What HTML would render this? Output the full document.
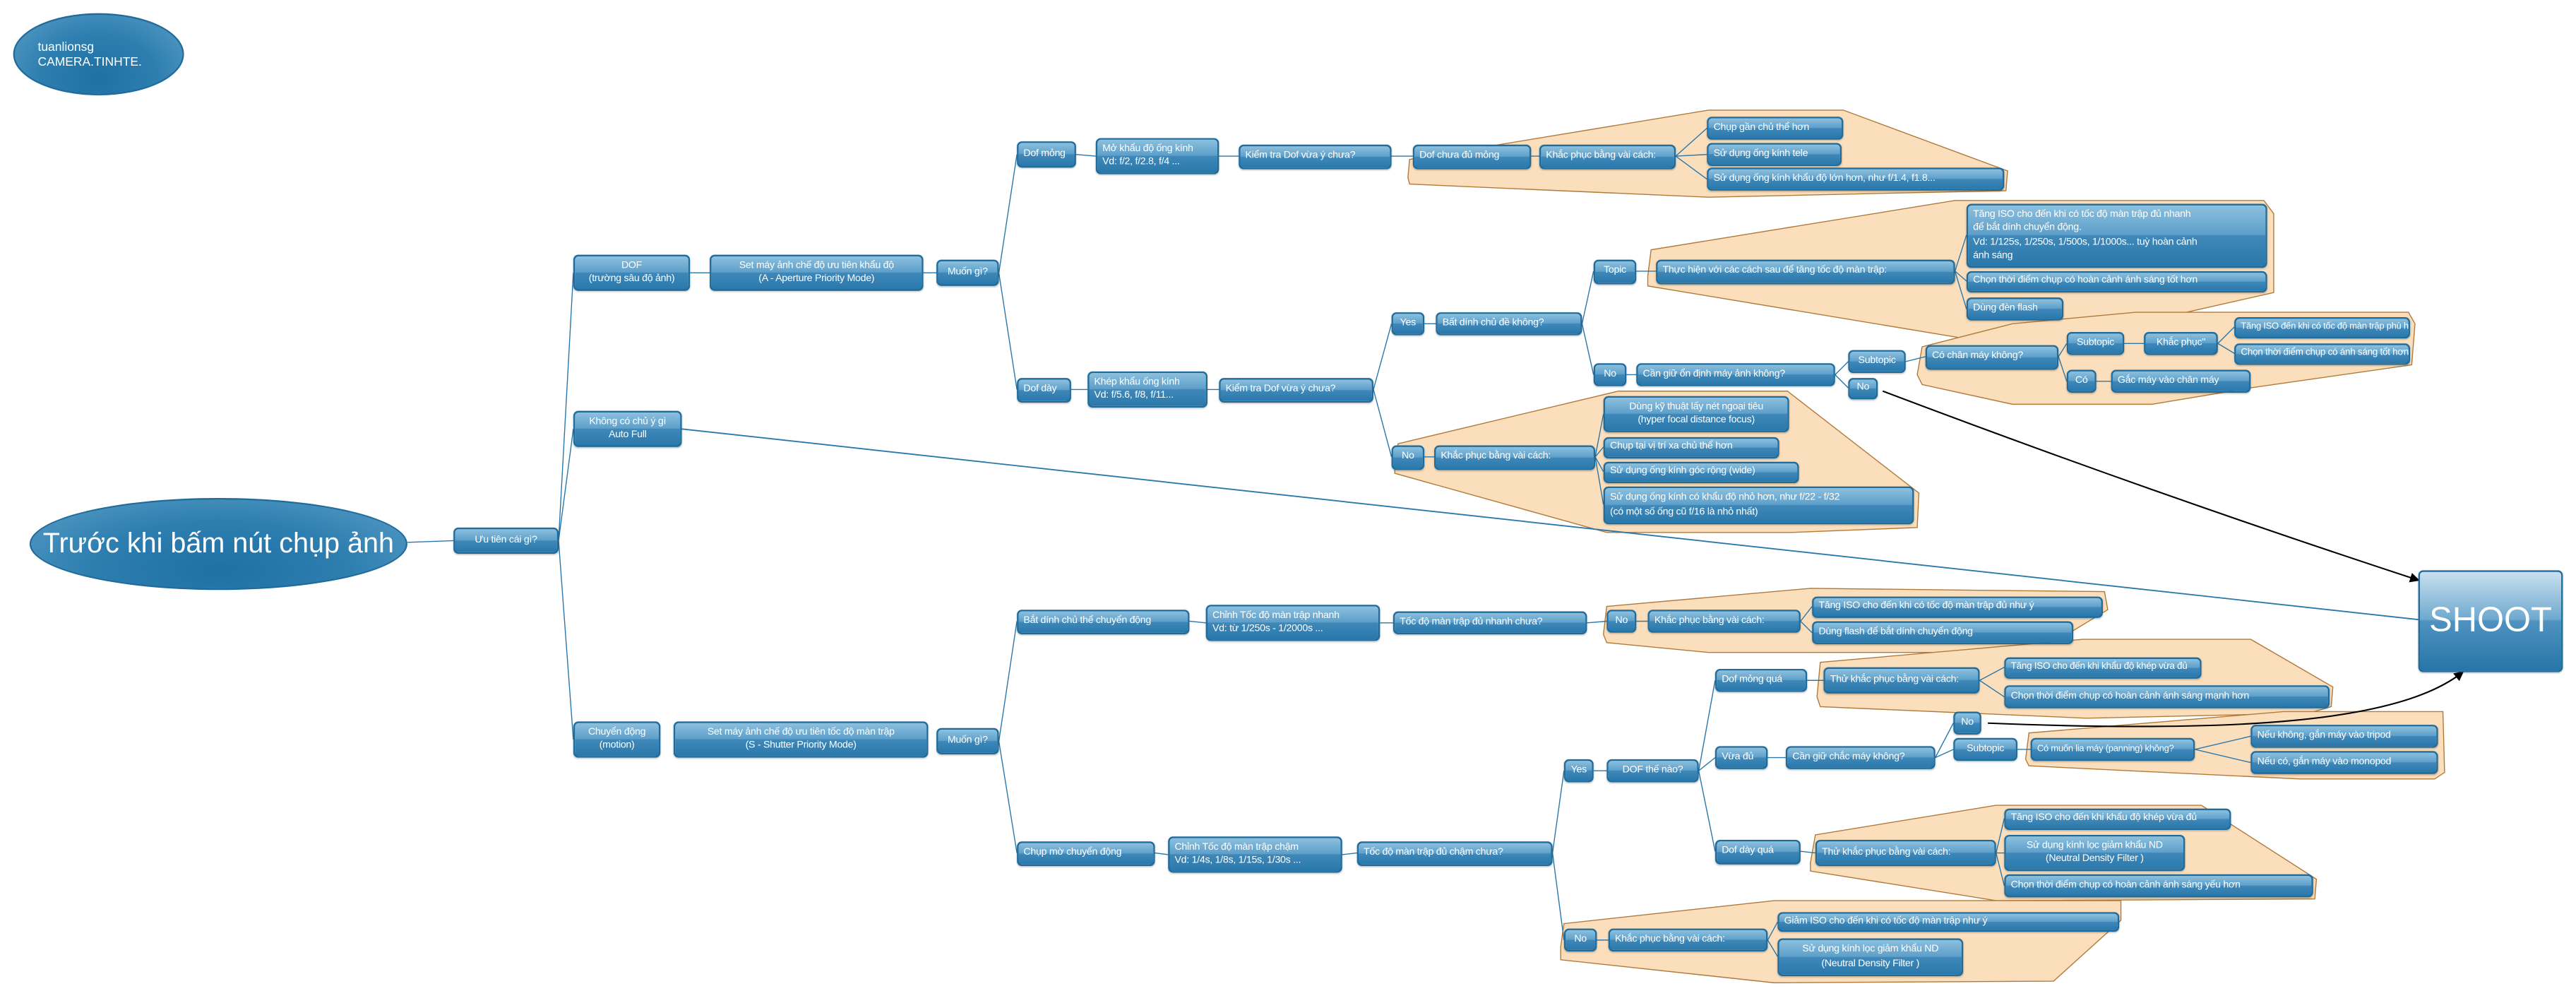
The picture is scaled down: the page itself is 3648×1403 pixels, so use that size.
<!DOCTYPE html>
<html><head><meta charset="utf-8">
<style>
html,body{margin:0;padding:0;background:#fff;width:3648px;height:1403px;overflow:hidden}
#c{position:absolute;left:0;top:0;width:1568px;height:603px;transform:scale(2.32653,2.32670);transform-origin:0 0}
svg{position:absolute;left:0;top:0}
.n{position:absolute;box-sizing:border-box;border:1px solid #1f6c9c;border-radius:3px;color:#fff;font-family:"Liberation Sans","Noto Sans CJK SC",sans-serif;font-size:6.1px;letter-spacing:-0.12px;line-height:8.4px;display:flex;align-items:center;justify-content:center;text-align:center;white-space:nowrap;overflow:hidden;background:linear-gradient(#8cc0de 0%,#5d9fca 48%,#3f88b9 50%,#2a78ab 100%);box-shadow:0 0.5px 1px rgba(0,0,0,.25)}
.l{justify-content:flex-start;text-align:left;padding-left:3px}
.e{position:absolute;border-radius:50%;border:1px solid #1f6c9c;color:#fff;font-family:"Liberation Sans",sans-serif;background:radial-gradient(ellipse at 50% 80%,#1f70a3 0%,#2e7fb0 50%,#5c9ec8 100%);display:flex;align-items:center;box-sizing:border-box}
</style></head><body><div id="c">
<svg width="1568" height="603" viewBox="0 0 1568 603">
<g fill="#fbdfbd" stroke="#b07a3a" stroke-width="0.6">
<polygon points="857,108 858,97 1040,67 1122,67 1222,104 1221,116 1040,120 858,112"/>
<polygon points="1003,168 1005,152 1190,122 1378,122 1384,130 1384,178 1260,206 1196,206 1003,174"/>
<polygon points="1167,228 1170,211 1225,197 1300,190 1466,190 1470,197 1468,222 1370,236 1310,246 1225,246 1170,234"/>
<polygon points="849,283 851,270 985,238 1088,238 1168,300 1167,321 1090,324 978,324 849,288"/>
<polygon points="976,386 978,369 1102,358 1281,360 1283,371 1240,397 1040,397 978,391"/>
<polygon points="1106,424 1108,403 1268,389 1370,389 1420,418 1419,430 1405,434 1270,437 1108,430"/>
<polygon points="1233,462 1235,446 1390,433 1487,433 1488,470 1482,474 1400,474 1235,466"/>
<polygon points="1102,525 1105,508 1215,490 1340,490 1410,535 1409,547 1215,548 1102,530"/>
<polygon points="950,576 952,562 1080,548 1291,548 1291,560 1250,597 1080,598 950,584"/>
</g>
<g stroke="#2a78ab" stroke-width="0.6" fill="none">
<path d="M248,330L276,329 M340,329L349,166 M340,329L349,261 M340,329L349,450 M420,166L432,166 M562,166L570,166 M608,166L619,94 M608,166L619,237 M655,94L667,95 M742,95L754,95 M847,95L860,95 M932,95L937,95 M1020,95L1039,78 M1020,95L1039,94 M1020,95L1039,109 M652,237L662,237 M735,237L742,237 M836,237L847,197 M836,237L847,278 M867,197L874,197 M963,197L970,165 M963,197L970,228 M996,165L1008,165 M1190,165L1197,143 M1190,165L1197,171 M1190,165L1197,188 M990,228L996,228 M1117,228L1125,220 M1117,228L1125,236 M1160,220L1172,217 M1253,217L1258,209 M1253,217L1258,232 M1293,209L1305,209 M1350,209L1360,199 M1350,209L1360,215 M1276,232L1285,232 M867,278L873,278 M971,278L976,252 M971,278L976,272 M971,278L976,287 M971,278L976,307 M608,451L619,378 M608,451L619,519 M724,378L734,379 M840,379L848,379 M966,379L978,378 M996,378L1003,378 M1096,378L1103,369 M1096,378L1103,385 M703,519L711,520 M817,520L826,519 M945,519L952,469 M945,519L952,572 M970,469L978,469 M1034,469L1044,414 M1034,469L1044,461 M1034,469L1044,518 M1100,414L1110,414 M1205,414L1220,406 M1205,414L1220,424 M1076,461L1087,461 M1178,461L1189,440 M1178,461L1189,456 M1228,456L1236,456 M1336,456L1370,448 M1336,456L1370,464 M1096,518L1105,519 M1215,519L1220,498 M1215,519L1220,519 M1215,519L1220,539 M972,572L979,572 M1076,572L1082,561 M1076,572L1082,582"/>
<path d="M415,261L1472,377" stroke-width="0.8"/>
</g>
<defs><marker id="a" markerWidth="6" markerHeight="6" refX="5" refY="3" orient="auto" markerUnits="userSpaceOnUse"><path d="M0,0L6,3L0,6z" fill="#000"/></marker></defs>
<g stroke="#000" stroke-width="0.9" fill="none">
<path d="M1146,238 Q1310,300 1472,353" marker-end="url(#a)"/>
<path d="M1210,440 C1360,446 1460,440 1499,409" marker-end="url(#a)"/>
</g>
</svg>
<div class="e" style="left:8px;top:8px;width:104px;height:50px;font-size:7.5px;line-height:9px;padding-left:14px">tuanlionsg<br>CAMERA.TINHTE.</div>
<div class="e" style="left:18px;top:303px;width:230px;height:56px;font-size:17px;justify-content:center">Trước khi bấm nút chụp ảnh</div>
<div class="n" style="left:1472px;top:347px;width:88px;height:62px;font-size:21px;letter-spacing:0;line-height:24px;background:linear-gradient(#c8e0ee 0%,#6fa9cf 48%,#4f92c0 50%,#2676a8 100%)">SHOOT</div>

<div class="n" style="left:276px;top:321px;width:64px;height:16px">Ưu tiên cái gì?</div>
<div class="n" style="left:349px;top:155px;width:71px;height:22px">DOF<br>(trường sâu độ ảnh)</div>
<div class="n" style="left:432px;top:155px;width:130px;height:22px">Set máy ảnh chế độ ưu tiên khẩu độ<br>(A - Aperture Priority Mode)</div>
<div class="n" style="left:570px;top:158px;width:38px;height:16px">Muốn gì?</div>
<div class="n" style="left:349px;top:250px;width:66px;height:22px">Không có chủ ý gì<br>Auto Full</div>
<div class="n" style="left:349px;top:439px;width:53px;height:22px">Chuyển động<br>(motion)</div>
<div class="n" style="left:410px;top:439px;width:155px;height:22px">Set máy ảnh chế độ ưu tiên tốc độ màn trập<br>(S - Shutter Priority Mode)</div>
<div class="n" style="left:570px;top:443px;width:38px;height:16px">Muốn gì?</div>

<div class="n l" style="left:619px;top:86px;width:36px;height:16px">Dof mỏng</div>
<div class="n l" style="left:667px;top:84px;width:75px;height:22px">Mở khẩu độ ống kính<br>Vd: f/2, f/2.8, f/4 ...</div>
<div class="n l" style="left:754px;top:88px;width:93px;height:15px">Kiểm tra Dof vừa ý chưa?</div>
<div class="n l" style="left:860px;top:88px;width:72px;height:15px">Dof chưa đủ mỏng</div>
<div class="n l" style="left:937px;top:88px;width:83px;height:15px">Khắc phục bằng vài cách:</div>
<div class="n l" style="left:1039px;top:71px;width:83px;height:14px">Chụp gần chủ thể hơn</div>
<div class="n l" style="left:1039px;top:87px;width:82px;height:14px">Sử dụng ống kính tele</div>
<div class="n l" style="left:1039px;top:102px;width:181px;height:14px">Sử dụng ống kính khẩu độ lớn hơn, như f/1.4, f1.8...</div>

<div class="n l" style="left:619px;top:230px;width:33px;height:15px">Dof dày</div>
<div class="n l" style="left:662px;top:226px;width:73px;height:22px">Khép khẩu ống kính<br>Vd: f/5.6, f/8, f/11...</div>
<div class="n l" style="left:742px;top:230px;width:94px;height:15px">Kiểm tra Dof vừa ý chưa?</div>
<div class="n" style="left:847px;top:190px;width:20px;height:14px">Yes</div>
<div class="n l" style="left:874px;top:190px;width:89px;height:14px">Bất dính chủ đề không?</div>
<div class="n" style="left:970px;top:158px;width:26px;height:15px">Topic</div>
<div class="n l" style="left:1008px;top:158px;width:182px;height:15px">Thực hiện với các cách sau để tăng tốc độ màn trập:</div>
<div class="n l" style="left:1197px;top:124px;width:183px;height:39px;line-height:8.4px">Tăng ISO cho đến khi có tốc độ màn trập đủ nhanh<br>để bắt dính chuyển động.<br>Vd: 1/125s, 1/250s, 1/500s, 1/1000s... tuỳ hoàn cảnh<br>ánh sáng</div>
<div class="n l" style="left:1197px;top:165px;width:183px;height:13px">Chọn thời điểm chụp có hoàn cảnh ánh sáng tốt hơn</div>
<div class="n l" style="left:1197px;top:181px;width:59px;height:14px">Dùng đèn flash</div>
<div class="n" style="left:970px;top:221px;width:20px;height:14px">No</div>
<div class="n l" style="left:996px;top:221px;width:121px;height:14px">Cần giữ ổn định máy ảnh không?</div>
<div class="n" style="left:1125px;top:213px;width:35px;height:14px">Subtopic</div>
<div class="n" style="left:1125px;top:230px;width:18px;height:13px">No</div>
<div class="n l" style="left:1172px;top:210px;width:81px;height:15px">Có chân máy không?</div>
<div class="n" style="left:1258px;top:202px;width:35px;height:14px">Subtopic</div>
<div class="n" style="left:1305px;top:202px;width:45px;height:14px">Khắc phục"</div>
<div class="n l" style="left:1360px;top:193px;width:107px;height:13px;font-size:5.6px">Tăng ISO đến khi có tốc độ màn trập phù hợp</div>
<div class="n l" style="left:1360px;top:209px;width:107px;height:13px;font-size:5.8px">Chọn thời điểm chụp có ánh sáng tốt hơn</div>
<div class="n" style="left:1258px;top:225px;width:18px;height:14px">Có</div>
<div class="n l" style="left:1285px;top:225px;width:85px;height:14px">Gắc máy vào chân máy</div>
<div class="n" style="left:847px;top:271px;width:20px;height:15px">No</div>
<div class="n l" style="left:873px;top:271px;width:98px;height:15px">Khắc phục bằng vài cách:</div>
<div class="n" style="left:976px;top:241px;width:113px;height:22px">Dùng kỹ thuật lấy nét ngoại tiêu<br>(hyper focal distance focus)</div>
<div class="n l" style="left:976px;top:266px;width:107px;height:13px">Chụp tại vị trí xa chủ thể hơn</div>
<div class="n l" style="left:976px;top:281px;width:119px;height:13px">Sử dụng ống kính góc rộng (wide)</div>
<div class="n l" style="left:976px;top:296px;width:189px;height:23px">Sử dụng ống kính có khẩu độ nhỏ hơn, như f/22 - f/32<br>(có một số ống cũ f/16 là nhỏ nhất)</div>

<div class="n l" style="left:619px;top:371px;width:105px;height:15px">Bắt dính chủ thể chuyển động</div>
<div class="n l" style="left:734px;top:368px;width:106px;height:22px">Chỉnh Tốc độ màn trập nhanh<br>Vd: từ 1/250s - 1/2000s ...</div>
<div class="n l" style="left:848px;top:372px;width:118px;height:14px">Tốc độ màn trập đủ nhanh chưa?</div>
<div class="n" style="left:978px;top:371px;width:18px;height:14px">No</div>
<div class="n l" style="left:1003px;top:371px;width:93px;height:14px">Khắc phục bằng vài cách:</div>
<div class="n l" style="left:1103px;top:363px;width:177px;height:13px">Tăng ISO cho đến khi có tốc độ màn trập đủ như ý</div>
<div class="n l" style="left:1103px;top:378px;width:159px;height:14px">Dùng flash để bắt dính chuyển động</div>
<div class="n l" style="left:619px;top:512px;width:84px;height:15px">Chụp mờ chuyển động</div>
<div class="n l" style="left:711px;top:509px;width:106px;height:22px">Chỉnh Tốc độ màn trập chậm<br>Vd: 1/4s, 1/8s, 1/15s, 1/30s ...</div>
<div class="n l" style="left:826px;top:512px;width:119px;height:15px">Tốc độ màn trập đủ chậm chưa?</div>
<div class="n" style="left:952px;top:462px;width:18px;height:14px">Yes</div>
<div class="n" style="left:978px;top:462px;width:56px;height:14px">DOF thế nào?</div>
<div class="n l" style="left:1044px;top:407px;width:56px;height:14px">Dof mỏng quá</div>
<div class="n l" style="left:1110px;top:406px;width:95px;height:16px">Thử khắc phục bằng vài cách:</div>
<div class="n l" style="left:1220px;top:400px;width:120px;height:13px;font-size:5.8px">Tăng ISO cho đến khi khẩu độ khép vừa đủ</div>
<div class="n l" style="left:1220px;top:417px;width:198px;height:14px">Chọn thời điểm chụp có hoàn cảnh ánh sáng mạnh hơn</div>
<div class="n l" style="left:1044px;top:454px;width:32px;height:14px">Vừa đủ</div>
<div class="n l" style="left:1087px;top:454px;width:91px;height:14px">Cần giữ chắc máy không?</div>
<div class="n" style="left:1189px;top:433px;width:17px;height:14px">No</div>
<div class="n" style="left:1189px;top:449px;width:39px;height:14px">Subtopic</div>
<div class="n l" style="left:1236px;top:449px;width:100px;height:14px;font-size:5.6px">Có muốn lia máy (panning) không?</div>
<div class="n l" style="left:1370px;top:441px;width:114px;height:14px">Nếu không, gắn máy vào tripod</div>
<div class="n l" style="left:1370px;top:457px;width:114px;height:14px">Nếu có, gắn máy vào monopod</div>
<div class="n l" style="left:1044px;top:511px;width:52px;height:15px">Dof  dày quá</div>
<div class="n l" style="left:1105px;top:511px;width:110px;height:16px">Thử khắc phục bằng vài cách:</div>
<div class="n l" style="left:1220px;top:492px;width:138px;height:13px">Tăng ISO cho đến khi khẩu độ khép vừa đủ</div>
<div class="n" style="left:1220px;top:508px;width:110px;height:22px">Sử dụng kính lọc giảm khẩu ND<br>(Neutral  Density Filter )</div>
<div class="n l" style="left:1220px;top:532px;width:188px;height:14px">Chọn thời điểm chụp có hoàn cảnh ánh sáng yếu hơn</div>
<div class="n" style="left:952px;top:565px;width:20px;height:14px">No</div>
<div class="n l" style="left:979px;top:565px;width:97px;height:14px">Khắc phục bằng vài cách:</div>
<div class="n l" style="left:1082px;top:555px;width:208px;height:12px">Giảm ISO cho đến khi có tốc độ màn trập như ý</div>
<div class="n" style="left:1082px;top:571px;width:113px;height:23px">Sử dụng kính lọc giảm khẩu ND<br>(Neutral  Density Filter )</div>
</div></body></html>
